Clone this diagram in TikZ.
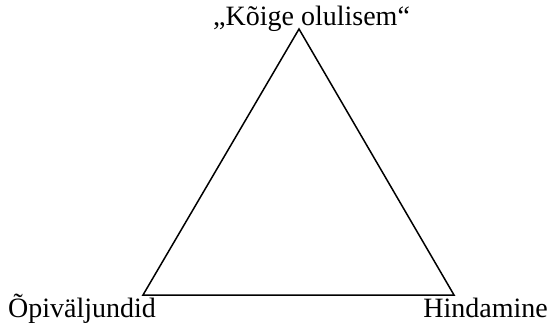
\documentclass[tikz,border=0pt]{standalone}
\usepackage{fontspec}
\setmainfont{Liberation Serif}
\begin{document}
\begin{tikzpicture}[x=1pt,y=-1pt,
  lbl/.style={font=\fontsize{28}{30}\selectfont, inner sep=0pt},
  edge/.style={line width=1.5pt, line join=miter}]
\useasboundingbox (0,0) rectangle (551,327);
\coordinate (top) at (299,29);
\coordinate (bl) at (143,295);
\coordinate (br) at (454,295);
\draw[edge] (top) -- (bl) -- (br) -- cycle;
\node[lbl, anchor=base west] (t) at (213,25) {„Kõige olulisem“};
\node[lbl, anchor=base west] (l) at (8,317) {Õpiväljundid};
\node[lbl, anchor=base east] (r) at (548,317) {Hindamine};
\end{tikzpicture}
\end{document}
